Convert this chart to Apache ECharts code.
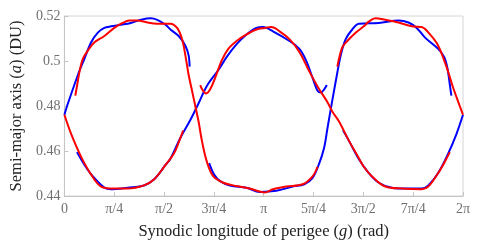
<!DOCTYPE html>
<html>
<head>
<meta charset="utf-8">
<script src="https://cdn.jsdelivr.net/npm/echarts@6/dist/echarts.min.js"></script>
<style>html,body{margin:0;padding:0;background:#fff}#c{width:488px;height:245px}</style>
</head>
<body>
<div id="c"></div>
<script>
// x tick labels (multiples of pi/4)
const xTickLabels = ['0','π/4','π/2','3π/4','π','5π/4','3π/2','7π/4','2π'];

// Blue curve segments: g (rad), a (DU)
const blueTopLeftG = [0,0.042,0.214,0.317,0.422,0.527,0.630,0.735,0.891,1.047,1.204,1.360,1.464,1.594,1.672,1.802,1.907,1.958,1.974];
const blueTopLeftA = [0.4761,0.4800,0.4939,0.5011,0.5083,0.5126,0.5147,0.5154,0.5161,0.5169,0.5183,0.5190,0.5183,0.5161,0.5140,0.5111,0.5068,0.5025,0.4975];

const blueMidG = [0.198,0.317,0.449,0.630,0.735,0.996,1.255,1.411,1.594,1.672,1.829,1.985,2.110,2.246,2.427,2.559,2.715,2.871,3.027,3.131,3.287,3.548,3.704,3.809,3.912,3.990,4.043,4.095,4.137];
const blueMidA = [0.4595,0.4538,0.4487,0.4437,0.4430,0.4437,0.4447,0.4473,0.4538,0.4566,0.4659,0.4738,0.4809,0.4889,0.4960,0.5018,0.5075,0.5118,0.5147,0.5151,0.5132,0.5089,0.5054,0.5003,0.4925,0.4868,0.4860,0.4874,0.4893];

const blueRightG = [2.282,2.360,2.454,2.610,2.871,3.079,3.340,3.600,3.782,3.912,4.017,4.095,4.147,4.200,4.278,4.356,4.434,4.537,4.642,4.955,5.267,5.424,5.553,5.685,5.892,5.986,6.038,6.075,6.100];
const blueRightA = [0.4546,0.4495,0.4466,0.4447,0.4437,0.4418,0.4423,0.4442,0.4452,0.4480,0.4545,0.4616,0.4702,0.4788,0.4911,0.5025,0.5097,0.5140,0.5166,0.5169,0.5180,0.5171,0.5147,0.5104,0.5054,0.5018,0.4968,0.4896,0.4846];

const blueLowRightG = [4.392,4.486,4.642,4.798,4.955,5.163,5.424,5.631,5.736,5.892,6.049,6.178,6.283];
const blueLowRightA = [0.4692,0.4645,0.4563,0.4502,0.4459,0.4437,0.4433,0.4433,0.4447,0.4502,0.4588,0.4674,0.4761];

// Red curve segments
const redLeftG = [0.172,0.203,0.239,0.292,0.370,0.474,0.630,0.786,0.917,1.021,1.152,1.308,1.464,1.594,1.672,1.777,1.855,1.907,1.958,2.012,2.063,2.115,2.168,2.246,2.349,2.505,2.715,2.923,3.157,3.287,3.496,3.756,3.912,3.990];
const redLeftA = [0.4846,0.4896,0.4954,0.5011,0.5046,0.5083,0.5111,0.5147,0.5169,0.5180,0.5180,0.5171,0.5166,0.5166,0.5166,0.5147,0.5097,0.5025,0.4939,0.4868,0.4800,0.4731,0.4645,0.4552,0.4487,0.4459,0.4444,0.4433,0.4416,0.4430,0.4442,0.4452,0.4487,0.4530];

const redMidG = [2.141,2.184,2.235,2.298,2.376,2.480,2.584,2.715,2.871,3.027,3.157,3.262,3.392,3.548,3.704,3.860,4.017,4.147,4.225,4.329,4.486,4.616,4.720,4.850,5.059,5.319,5.631,5.736,5.892,5.997,6.075];
const redMidA = [0.4893,0.4868,0.4856,0.4874,0.4925,0.5003,0.5054,0.5089,0.5118,0.5140,0.5147,0.5151,0.5132,0.5097,0.5040,0.4954,0.4874,0.4817,0.4774,0.4731,0.4645,0.4581,0.4530,0.4487,0.4442,0.4433,0.4430,0.4442,0.4502,0.4552,0.4595];

const redRightG = [4.303,4.329,4.381,4.459,4.590,4.720,4.798,4.903,5.059,5.267,5.475,5.631,5.763,5.892,6.022,6.127,6.232,6.283];
const redRightA = [0.4975,0.5011,0.5061,0.5089,0.5126,0.5154,0.5175,0.5190,0.5183,0.5171,0.5154,0.5151,0.5118,0.5068,0.4975,0.4882,0.4800,0.4761];

const redLowLeftG = [0,0.109,0.266,0.422,0.578,0.786,0.996,1.255,1.411,1.594,1.724,1.802,1.871];
const redLowLeftA = [0.4761,0.4674,0.4573,0.4495,0.4442,0.4433,0.4433,0.4447,0.4473,0.4538,0.4588,0.4638,0.4691];

const zip = (g, a) => g.map((v, i) => [v, a[i]]);
const FONT = 'Liberation Serif';
const TITLE_SIZE = 16.5;

function seg(g, a, color) {
  return {
    type: 'line', data: zip(g, a), showSymbol: false, symbol: 'none',
    smooth: 0.35, lineStyle: { color: color, width: 2 }, silent: true, animation: false
  };
}

const chart = echarts.init(document.getElementById('c'), null, { renderer: 'canvas' });
chart.setOption({
  animation: false,
  grid: { left: 61, right: 25, top: 16, bottom: 43, show: true, borderColor: '#d6d6d6', borderWidth: 1 },
  xAxis: {
    type: 'value', min: 0, max: 2 * Math.PI, interval: Math.PI / 4,
    name: 'Synodic longitude of perigee ({i|g}) (rad)',
    nameLocation: 'middle', nameGap: 27,
    nameTextStyle: { fontFamily: FONT, fontSize: TITLE_SIZE, color: '#222',
      rich: { i: { fontFamily: FONT, fontSize: TITLE_SIZE, fontStyle: 'italic', color: '#222' } } },
    axisLine: { show: true, lineStyle: { color: '#c4c4c4', width: 1 } },
    axisTick: { show: true, inside: true, length: 4, lineStyle: { color: '#c4c4c4' } },
    axisLabel: { fontFamily: FONT, fontSize: 14, color: '#707070', margin: 6,
      formatter: v => xTickLabels[Math.round(v / (Math.PI / 4))] },
    splitLine: { show: false }
  },
  yAxis: {
    type: 'value', min: 0.44, max: 0.52, interval: 0.02,
    name: 'Semi-major axis ({i|a}) (DU)',
    nameLocation: 'middle', nameGap: 38,
    nameTextStyle: { fontFamily: FONT, fontSize: TITLE_SIZE, color: '#222',
      rich: { i: { fontFamily: FONT, fontSize: TITLE_SIZE, fontStyle: 'italic', color: '#222' } } },
    axisLine: { show: true, lineStyle: { color: '#c4c4c4', width: 1 } },
    axisTick: { show: true, inside: true, length: 4, lineStyle: { color: '#c4c4c4' } },
    axisLabel: { fontFamily: FONT, fontSize: 14, color: '#707070', margin: 4 },
    splitLine: { show: false }
  },
  series: [
    seg(blueTopLeftG, blueTopLeftA, '#0000ff'),
    seg(blueMidG, blueMidA, '#0000ff'),
    seg(blueRightG, blueRightA, '#0000ff'),
    seg(blueLowRightG, blueLowRightA, '#0000ff'),
    seg(redLeftG, redLeftA, '#ff0000'),
    seg(redMidG, redMidA, '#ff0000'),
    seg(redRightG, redRightA, '#ff0000'),
    seg(redLowLeftG, redLowLeftA, '#ff0000')
  ]
});
</script>
</body>
</html>
